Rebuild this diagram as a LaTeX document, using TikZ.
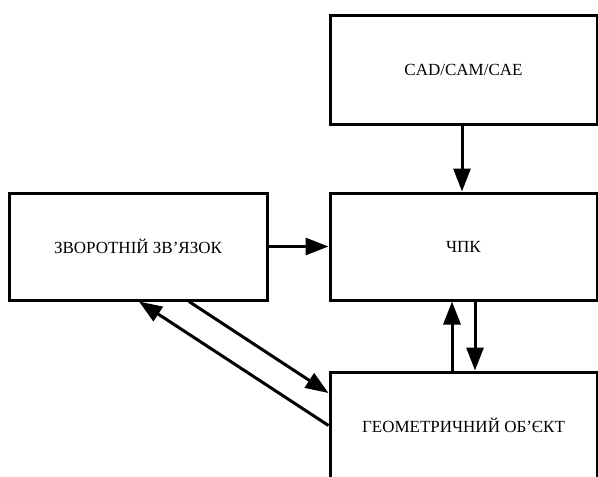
\documentclass[tikz,border=0pt]{standalone}
\usepackage{fontspec}
\setmainfont{Liberation Serif}
\usetikzlibrary{arrows.meta,calc}
\tikzset{
    block/.style = {draw, rectangle, line width=3pt,
        minimum height=107pt,
        minimum width=267pt, align=center,
        font=\fontsize{17pt}{20pt}\selectfont},
    arrow/.style={draw, ->, line width=3pt}
}
\begin{document}
\begin{tikzpicture}[x=1pt, y=1pt, node distance=2cm, >={Triangle[length=23pt,width=17pt]}]
        \useasboundingbox (0,0) rectangle (598,-477);
        \node [block] (chpk) at (463.5,-246.5) {ЧПК};
        \node [block, above of=chpk, node distance=177pt, minimum height=109pt] (cad) {CAD/CAM/CAE};
        \draw[arrow] ([xshift=-1.5pt]cad.south) -- ([xshift=-1.5pt]chpk.north);
        \node [block, left of=chpk, node distance=325.5pt, minimum width=258pt] (zv) {ЗВОРОТНІЙ ЗВ’ЯЗОК};
        \draw[arrow] (zv) -- (chpk);
        \node [block, below of=chpk, node distance=179pt] (geo) {ГЕОМЕТРИЧНИЙ ОБ’ЄКТ};
        \draw[arrow] ([xshift=-11.5pt]geo.north) -- ([xshift=-11.5pt]chpk.south);
        \draw[arrow] ([xshift=11.5pt]chpk.south) -- ([xshift=11.5pt]geo.north);
        \draw[arrow] ([xshift=51pt]zv.south) -- ([yshift=32.5pt]geo.west);
        \draw[arrow] (geo.west) -- ([xshift=1pt]zv.south);
    \end{tikzpicture}
\end{document}
